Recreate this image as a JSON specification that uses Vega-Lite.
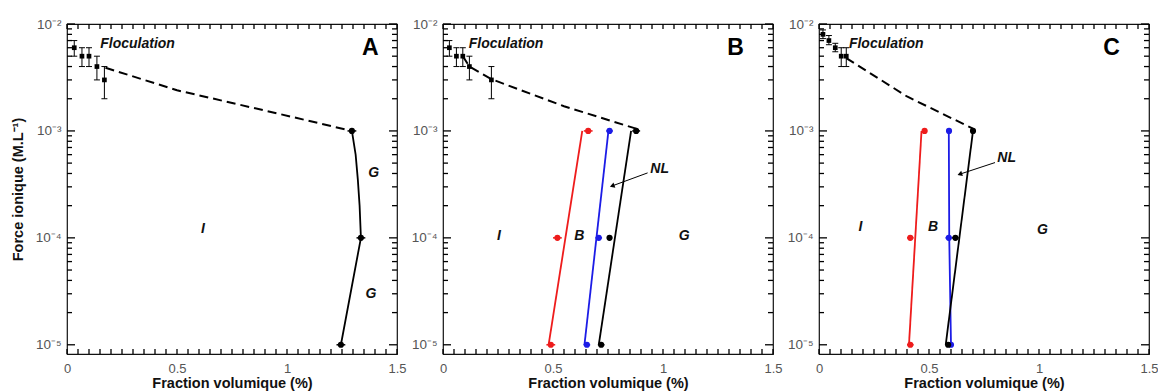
{
  "$schema": "https://vega.github.io/schema/vega-lite/v6.json",
  "padding": {"left": 9, "top": 16, "right": 2, "bottom": 2},
  "background": "#ffffff",
  "spacing": 3,
  "config": {
    "view": {"stroke": "#111111", "strokeWidth": 1.2},
    "axis": {"grid": false, "domain": false, "labelFont": "Liberation Sans", "titleFont": "Liberation Sans", "labelFontSize": 13, "labelColor": "#555555"},
    "text": {"font": "Liberation Sans"}
  },
  "datasets": {
    "tx": [{"v": 0}, {"v": 0.05}, {"v": 0.1}, {"v": 0.15}, {"v": 0.2}, {"v": 0.25}, {"v": 0.3}, {"v": 0.35}, {"v": 0.4}, {"v": 0.45}, {"v": 0.5}, {"v": 0.55}, {"v": 0.6}, {"v": 0.65}, {"v": 0.7}, {"v": 0.75}, {"v": 0.8}, {"v": 0.85}, {"v": 0.9}, {"v": 0.95}, {"v": 1}, {"v": 1.05}, {"v": 1.1}, {"v": 1.15}, {"v": 1.2}, {"v": 1.25}, {"v": 1.3}, {"v": 1.35}, {"v": 1.4}, {"v": 1.45}, {"v": 1.5}],
    "tymin": [{"v": 0.00002}, {"v": 0.00003}, {"v": 0.00004}, {"v": 0.00005}, {"v": 0.00006}, {"v": 0.00007}, {"v": 0.00008}, {"v": 0.00009}, {"v": 0.0002}, {"v": 0.0003}, {"v": 0.0004}, {"v": 0.0005}, {"v": 0.0006}, {"v": 0.0007}, {"v": 0.0008}, {"v": 0.0009}, {"v": 0.002}, {"v": 0.003}, {"v": 0.004}, {"v": 0.005}, {"v": 0.006}, {"v": 0.007}, {"v": 0.008}, {"v": 0.009}],
    "tymaj": [{"v": 0.00001}, {"v": 0.0001}, {"v": 0.001}, {"v": 0.01}],
    "floc": [
      {"p": "A", "x": 0.033, "y": 0.006, "lo": 0.005, "hi": 0.007},
      {"p": "A", "x": 0.068, "y": 0.005, "lo": 0.004, "hi": 0.006},
      {"p": "A", "x": 0.1, "y": 0.005, "lo": 0.004, "hi": 0.006},
      {"p": "A", "x": 0.136, "y": 0.004, "lo": 0.003, "hi": 0.005},
      {"p": "A", "x": 0.17, "y": 0.003, "lo": 0.002, "hi": 0.004},
      {"p": "B", "x": 0.029, "y": 0.006, "lo": 0.005, "hi": 0.007},
      {"p": "B", "x": 0.061, "y": 0.005, "lo": 0.004, "hi": 0.006},
      {"p": "B", "x": 0.09, "y": 0.005, "lo": 0.004, "hi": 0.006},
      {"p": "B", "x": 0.12, "y": 0.004, "lo": 0.003, "hi": 0.005},
      {"p": "B", "x": 0.22, "y": 0.003, "lo": 0.002, "hi": 0.004},
      {"p": "C", "x": 0.018, "y": 0.008, "lo": 0.0073, "hi": 0.0088},
      {"p": "C", "x": 0.045, "y": 0.007, "lo": 0.0064, "hi": 0.0078},
      {"p": "C", "x": 0.074, "y": 0.006, "lo": 0.0055, "hi": 0.0066},
      {"p": "C", "x": 0.101, "y": 0.005, "lo": 0.004, "hi": 0.006},
      {"p": "C", "x": 0.124, "y": 0.005, "lo": 0.004, "hi": 0.006}
    ],
    "dash": [
      {"p": "A", "i": 1, "x": 0.175, "y": 0.0039},
      {"p": "A", "i": 2, "x": 0.5, "y": 0.0024},
      {"p": "A", "i": 3, "x": 0.9, "y": 0.00155},
      {"p": "A", "i": 4, "x": 1.295, "y": 0.001},
      {"p": "B", "i": 1, "x": 0.09, "y": 0.005},
      {"p": "B", "i": 2, "x": 0.12, "y": 0.004},
      {"p": "B", "i": 3, "x": 0.22, "y": 0.00305},
      {"p": "B", "i": 4, "x": 0.55, "y": 0.0017},
      {"p": "B", "i": 5, "x": 0.878, "y": 0.00105},
      {"p": "C", "i": 1, "x": 0.124, "y": 0.0048},
      {"p": "C", "i": 2, "x": 0.4, "y": 0.0021},
      {"p": "C", "i": 3, "x": 0.7, "y": 0.00105}
    ],
    "lines": [
      {"p": "A", "s": "black", "i": 1, "x": 1.295, "y": 0.001},
      {"p": "A", "s": "black", "i": 2, "x": 1.312, "y": 0.0006},
      {"p": "A", "s": "black", "i": 3, "x": 1.322, "y": 0.00035},
      {"p": "A", "s": "black", "i": 4, "x": 1.33, "y": 0.0002},
      {"p": "A", "s": "black", "i": 5, "x": 1.336, "y": 0.0001},
      {"p": "A", "s": "black", "i": 6, "x": 1.245, "y": 0.00001},
      {"p": "B", "s": "red", "i": 1, "x": 0.633, "y": 0.001},
      {"p": "B", "s": "red", "i": 2, "x": 0.48, "y": 0.00001},
      {"p": "B", "s": "blue", "i": 1, "x": 0.752, "y": 0.001},
      {"p": "B", "s": "blue", "i": 2, "x": 0.643, "y": 0.00001},
      {"p": "B", "s": "black", "i": 1, "x": 0.855, "y": 0.001},
      {"p": "B", "s": "black", "i": 2, "x": 0.708, "y": 0.00001},
      {"p": "C", "s": "red", "i": 1, "x": 0.466, "y": 0.001},
      {"p": "C", "s": "red", "i": 2, "x": 0.409, "y": 0.00001},
      {"p": "C", "s": "blue", "i": 1, "x": 0.59, "y": 0.001},
      {"p": "C", "s": "blue", "i": 2, "x": 0.592, "y": 0.0001},
      {"p": "C", "s": "blue", "i": 3, "x": 0.6, "y": 0.00001},
      {"p": "C", "s": "black", "i": 1, "x": 0.7, "y": 0.001},
      {"p": "C", "s": "black", "i": 2, "x": 0.576, "y": 0.00001}
    ],
    "mk": [
      {"p": "A", "s": "black", "x": 1.295, "y": 0.001, "xlo": 1.275, "xhi": 1.315},
      {"p": "A", "s": "black", "x": 1.336, "y": 0.0001, "xlo": 1.316, "xhi": 1.356},
      {"p": "A", "s": "black", "x": 1.245, "y": 0.00001, "xlo": 1.225, "xhi": 1.265},
      {"p": "B", "s": "red", "x": 0.66, "y": 0.001, "xlo": 0.64, "xhi": 0.68},
      {"p": "B", "s": "red", "x": 0.52, "y": 0.0001, "xlo": 0.5, "xhi": 0.54},
      {"p": "B", "s": "red", "x": 0.49, "y": 0.00001, "xlo": 0.47, "xhi": 0.51},
      {"p": "B", "s": "blue", "x": 0.757, "y": 0.001, "xlo": 0.742, "xhi": 0.772},
      {"p": "B", "s": "blue", "x": 0.708, "y": 0.0001, "xlo": 0.693, "xhi": 0.723},
      {"p": "B", "s": "blue", "x": 0.654, "y": 0.00001, "xlo": 0.639, "xhi": 0.669},
      {"p": "B", "s": "black", "x": 0.878, "y": 0.001, "xlo": 0.86, "xhi": 0.896},
      {"p": "B", "s": "black", "x": 0.757, "y": 0.0001, "xlo": 0.745, "xhi": 0.769},
      {"p": "B", "s": "black", "x": 0.719, "y": 0.00001, "xlo": 0.704, "xhi": 0.734},
      {"p": "C", "s": "red", "x": 0.48, "y": 0.001, "xlo": 0.468, "xhi": 0.492},
      {"p": "C", "s": "red", "x": 0.415, "y": 0.0001, "xlo": 0.4, "xhi": 0.43},
      {"p": "C", "s": "red", "x": 0.415, "y": 0.00001, "xlo": 0.4, "xhi": 0.43},
      {"p": "C", "s": "blue", "x": 0.591, "y": 0.001, "xlo": 0.581, "xhi": 0.601},
      {"p": "C", "s": "blue", "x": 0.59, "y": 0.0001, "xlo": 0.575, "xhi": 0.605},
      {"p": "C", "s": "blue", "x": 0.6, "y": 0.00001, "xlo": 0.59, "xhi": 0.61},
      {"p": "C", "s": "black", "x": 0.7, "y": 0.001, "xlo": 0.688, "xhi": 0.712},
      {"p": "C", "s": "black", "x": 0.62, "y": 0.0001, "xlo": 0.605, "xhi": 0.635},
      {"p": "C", "s": "black", "x": 0.587, "y": 0.00001, "xlo": 0.575, "xhi": 0.599}
    ],
    "lab": [
      {"p": "A", "t": "Floculation", "x": 0.151, "y": 0.0065},
      {"p": "A", "t": "G", "x": 1.394, "y": 0.000407},
      {"p": "A", "t": "G", "x": 1.382, "y": 0.0000298},
      {"p": "A", "t": "I", "x": 0.618, "y": 0.00012},
      {"p": "B", "t": "Floculation", "x": 0.117, "y": 0.0065},
      {"p": "B", "t": "I", "x": 0.254, "y": 0.000103},
      {"p": "B", "t": "B", "x": 0.62, "y": 0.000103},
      {"p": "B", "t": "G", "x": 1.096, "y": 0.000103},
      {"p": "B", "t": "NL", "x": 0.985, "y": 0.00044},
      {"p": "C", "t": "Floculation", "x": 0.136, "y": 0.0065},
      {"p": "C", "t": "I", "x": 0.188, "y": 0.000127},
      {"p": "C", "t": "B", "x": 0.519, "y": 0.000127},
      {"p": "C", "t": "G", "x": 1.016, "y": 0.000118},
      {"p": "C", "t": "NL", "x": 0.853, "y": 0.00056}
    ],
    "big": [
      {"p": "A", "t": "A", "x": 1.379, "y": 0.006},
      {"p": "B", "t": "B", "x": 1.33, "y": 0.006},
      {"p": "C", "t": "C", "x": 1.33, "y": 0.006}
    ],
    "arrows": [
      {"p": "B", "x": 0.93, "y": 0.000405, "x2": 0.769, "y2": 0.000306},
      {"p": "C", "x": 0.8, "y": 0.000506, "x2": 0.64, "y2": 0.000394}
    ]
  },
  "hconcat": [
    {
      "width": 330, "height": 330,
      "layer": [
        {"data": {"name": "dash"}, "transform": [{"filter": "datum.p=='A'"}],
         "mark": {"type": "line", "strokeDash": [9, 5], "strokeWidth": 2, "color": "#000000"},
         "encoding": {
           "x": {"field": "x", "type": "quantitative", "scale": {"domain": [0, 1.5], "nice": false, "zero": false},
                 "axis": {"orient": "bottom", "values": [0, 0.5, 1, 1.5], "format": "~g", "ticks": false, "tickSize": 0, "labelPadding": 8, "labelOverlap": false, "labelFlush": false,
                          "title": "Fraction volumique (%)", "titleFontSize": 14.5, "titleFontWeight": "bold", "titleColor": "#111111", "titlePadding": 1}},
           "y": {"field": "y", "type": "quantitative", "scale": {"type": "log", "domain": [0.0000082, 0.01], "nice": false},
                 "axis": {"orient": "left", "values": [0.00001, 0.0001, 0.001, 0.01],
                          "labelExpr": "'10' + ['⁻⁵','⁻⁴','⁻³','⁻²'][round(log(datum.value)/LN10)+5]",
                          "ticks": false, "tickSize": 0, "labelPadding": 6, "labelFontSize": 13.5, "labelOverlap": false, "labelFlush": false,
                          "title": "Force ionique (M.L⁻¹)", "titleFontSize": 14.5, "titleFontWeight": "bold", "titleColor": "#111111", "titlePadding": 10}},
           "order": {"field": "i"}
         }},
        {"data": {"name": "tx"}, "mark": {"type": "rule", "color": "#000000", "strokeWidth": 1.3},
         "encoding": {"x": {"field": "v", "type": "quantitative"}, "y": {"datum": 0.0000082, "type": "quantitative"}, "y2": {"datum": 0.00000913}}},
        {"data": {"name": "tx"}, "mark": {"type": "rule", "color": "#000000", "strokeWidth": 1.3},
         "encoding": {"x": {"field": "v", "type": "quantitative"}, "y": {"datum": 0.01, "type": "quantitative"}, "y2": {"datum": 0.00898}}},
        {"data": {"name": "tymin"}, "mark": {"type": "rule", "color": "#000000", "strokeWidth": 1.3},
         "encoding": {"y": {"field": "v", "type": "quantitative"}, "x": {"datum": 0, "type": "quantitative"}, "x2": {"datum": 0.0227}}},
        {"data": {"name": "tymin"}, "mark": {"type": "rule", "color": "#000000", "strokeWidth": 1.3},
         "encoding": {"y": {"field": "v", "type": "quantitative"}, "x": {"datum": 1.5, "type": "quantitative"}, "x2": {"datum": 1.4773}}},
        {"data": {"name": "tymaj"}, "mark": {"type": "rule", "color": "#000000", "strokeWidth": 1.3},
         "encoding": {"y": {"field": "v", "type": "quantitative"}, "x": {"datum": 0, "type": "quantitative"}, "x2": {"datum": 0.0364}}},
        {"data": {"name": "tymaj"}, "mark": {"type": "rule", "color": "#000000", "strokeWidth": 1.3},
         "encoding": {"y": {"field": "v", "type": "quantitative"}, "x": {"datum": 1.5, "type": "quantitative"}, "x2": {"datum": 1.4636}}},
        {"data": {"name": "floc"}, "transform": [{"filter": "datum.p=='A'"}],
         "mark": {"type": "rule", "color": "#000000", "strokeWidth": 1},
         "encoding": {"x": {"field": "x", "type": "quantitative"}, "y": {"field": "lo", "type": "quantitative"}, "y2": {"field": "hi"}}},
        {"data": {"name": "floc"}, "transform": [{"filter": "datum.p=='A'"}, {"fold": ["lo", "hi"], "as": ["k", "v"]}],
         "mark": {"type": "tick", "orient": "horizontal", "size": 6, "thickness": 1, "color": "#000000", "opacity": 1},
         "encoding": {"x": {"field": "x", "type": "quantitative"}, "y": {"field": "v", "type": "quantitative"}}},
        {"data": {"name": "floc"}, "transform": [{"filter": "datum.p=='A'"}],
         "mark": {"type": "point", "shape": "square", "filled": true, "size": 22, "color": "#000000", "opacity": 1},
         "encoding": {"x": {"field": "x", "type": "quantitative"}, "y": {"field": "y", "type": "quantitative"}}},
        {"data": {"name": "lines"}, "transform": [{"filter": "datum.p=='A'"}],
         "mark": {"type": "line", "strokeWidth": 1.8},
         "encoding": {"x": {"field": "x", "type": "quantitative"}, "y": {"field": "y", "type": "quantitative"},
                      "color": {"field": "s", "type": "nominal", "scale": {"domain": ["black", "red", "blue"], "range": ["#000000", "#ee1c1c", "#1c1ce6"]}, "legend": null},
                      "order": {"field": "i"}}},
        {"data": {"name": "mk"}, "transform": [{"filter": "datum.p=='A'"}],
         "mark": {"type": "rule", "strokeWidth": 1.5},
         "encoding": {"x": {"field": "xlo", "type": "quantitative"}, "x2": {"field": "xhi"}, "y": {"field": "y", "type": "quantitative"},
                      "color": {"field": "s", "type": "nominal", "scale": {"domain": ["black", "red", "blue"], "range": ["#000000", "#ee1c1c", "#1c1ce6"]}, "legend": null}}},
        {"data": {"name": "mk"}, "transform": [{"filter": "datum.p=='A'"}],
         "mark": {"type": "point", "shape": "circle", "filled": true, "size": 38, "opacity": 1},
         "encoding": {"x": {"field": "x", "type": "quantitative"}, "y": {"field": "y", "type": "quantitative"},
                      "color": {"field": "s", "type": "nominal", "scale": {"domain": ["black", "red", "blue"], "range": ["#000000", "#ee1c1c", "#1c1ce6"]}, "legend": null}}},
        {"data": {"name": "lab"}, "transform": [{"filter": "datum.p=='A' && datum.t=='Floculation'"}],
         "mark": {"type": "text", "fontSize": 14, "fontStyle": "italic", "fontWeight": "bold", "align": "left", "baseline": "middle", "color": "#111111"},
         "encoding": {"x": {"field": "x", "type": "quantitative"}, "y": {"field": "y", "type": "quantitative"}, "text": {"field": "t"}}},
        {"data": {"name": "lab"}, "transform": [{"filter": "datum.p=='A' && datum.t!='Floculation'"}],
         "mark": {"type": "text", "fontSize": 14, "fontStyle": "italic", "fontWeight": "bold", "align": "center", "baseline": "middle", "color": "#111111"},
         "encoding": {"x": {"field": "x", "type": "quantitative"}, "y": {"field": "y", "type": "quantitative"}, "text": {"field": "t"}}},
        {"data": {"name": "big"}, "transform": [{"filter": "datum.p=='A'"}],
         "mark": {"type": "text", "fontSize": 23, "fontWeight": "bold", "align": "center", "baseline": "middle", "color": "#000000"},
         "encoding": {"x": {"field": "x", "type": "quantitative"}, "y": {"field": "y", "type": "quantitative"}, "text": {"field": "t"}}}
      ]
    },
    {
      "width": 330, "height": 330,
      "layer": [
        {"data": {"name": "dash"}, "transform": [{"filter": "datum.p=='B'"}],
         "mark": {"type": "line", "strokeDash": [9, 5], "strokeWidth": 2, "color": "#000000"},
         "encoding": {
           "x": {"field": "x", "type": "quantitative", "scale": {"domain": [0, 1.5], "nice": false, "zero": false},
                 "axis": {"orient": "bottom", "values": [0, 0.5, 1, 1.5], "format": "~g", "ticks": false, "tickSize": 0, "labelPadding": 8, "labelOverlap": false, "labelFlush": false,
                          "title": "Fraction volumique (%)", "titleFontSize": 14.5, "titleFontWeight": "bold", "titleColor": "#111111", "titlePadding": 1}},
           "y": {"field": "y", "type": "quantitative", "scale": {"type": "log", "domain": [0.0000082, 0.01], "nice": false},
                 "axis": {"orient": "left", "values": [0.00001, 0.0001, 0.001, 0.01],
                          "labelExpr": "'10' + ['⁻⁵','⁻⁴','⁻³','⁻²'][round(log(datum.value)/LN10)+5]",
                          "ticks": false, "tickSize": 0, "labelPadding": 6, "labelFontSize": 13.5, "labelOverlap": false, "labelFlush": false, "title": null}},
           "order": {"field": "i"}
         }},
        {"data": {"name": "tx"}, "mark": {"type": "rule", "color": "#000000", "strokeWidth": 1.3},
         "encoding": {"x": {"field": "v", "type": "quantitative"}, "y": {"datum": 0.0000082, "type": "quantitative"}, "y2": {"datum": 0.00000913}}},
        {"data": {"name": "tx"}, "mark": {"type": "rule", "color": "#000000", "strokeWidth": 1.3},
         "encoding": {"x": {"field": "v", "type": "quantitative"}, "y": {"datum": 0.01, "type": "quantitative"}, "y2": {"datum": 0.00898}}},
        {"data": {"name": "tymin"}, "mark": {"type": "rule", "color": "#000000", "strokeWidth": 1.3},
         "encoding": {"y": {"field": "v", "type": "quantitative"}, "x": {"datum": 0, "type": "quantitative"}, "x2": {"datum": 0.0227}}},
        {"data": {"name": "tymin"}, "mark": {"type": "rule", "color": "#000000", "strokeWidth": 1.3},
         "encoding": {"y": {"field": "v", "type": "quantitative"}, "x": {"datum": 1.5, "type": "quantitative"}, "x2": {"datum": 1.4773}}},
        {"data": {"name": "tymaj"}, "mark": {"type": "rule", "color": "#000000", "strokeWidth": 1.3},
         "encoding": {"y": {"field": "v", "type": "quantitative"}, "x": {"datum": 0, "type": "quantitative"}, "x2": {"datum": 0.0364}}},
        {"data": {"name": "tymaj"}, "mark": {"type": "rule", "color": "#000000", "strokeWidth": 1.3},
         "encoding": {"y": {"field": "v", "type": "quantitative"}, "x": {"datum": 1.5, "type": "quantitative"}, "x2": {"datum": 1.4636}}},
        {"data": {"name": "floc"}, "transform": [{"filter": "datum.p=='B'"}],
         "mark": {"type": "rule", "color": "#000000", "strokeWidth": 1},
         "encoding": {"x": {"field": "x", "type": "quantitative"}, "y": {"field": "lo", "type": "quantitative"}, "y2": {"field": "hi"}}},
        {"data": {"name": "floc"}, "transform": [{"filter": "datum.p=='B'"}, {"fold": ["lo", "hi"], "as": ["k", "v"]}],
         "mark": {"type": "tick", "orient": "horizontal", "size": 6, "thickness": 1, "color": "#000000", "opacity": 1},
         "encoding": {"x": {"field": "x", "type": "quantitative"}, "y": {"field": "v", "type": "quantitative"}}},
        {"data": {"name": "floc"}, "transform": [{"filter": "datum.p=='B'"}],
         "mark": {"type": "point", "shape": "square", "filled": true, "size": 22, "color": "#000000", "opacity": 1},
         "encoding": {"x": {"field": "x", "type": "quantitative"}, "y": {"field": "y", "type": "quantitative"}}},
        {"data": {"name": "lines"}, "transform": [{"filter": "datum.p=='B'"}],
         "mark": {"type": "line", "strokeWidth": 1.8},
         "encoding": {"x": {"field": "x", "type": "quantitative"}, "y": {"field": "y", "type": "quantitative"},
                      "color": {"field": "s", "type": "nominal", "scale": {"domain": ["black", "red", "blue"], "range": ["#000000", "#ee1c1c", "#1c1ce6"]}, "legend": null},
                      "order": {"field": "i"}}},
        {"data": {"name": "mk"}, "transform": [{"filter": "datum.p=='B'"}],
         "mark": {"type": "rule", "strokeWidth": 1.5},
         "encoding": {"x": {"field": "xlo", "type": "quantitative"}, "x2": {"field": "xhi"}, "y": {"field": "y", "type": "quantitative"},
                      "color": {"field": "s", "type": "nominal", "scale": {"domain": ["black", "red", "blue"], "range": ["#000000", "#ee1c1c", "#1c1ce6"]}, "legend": null}}},
        {"data": {"name": "mk"}, "transform": [{"filter": "datum.p=='B'"}],
         "mark": {"type": "point", "shape": "circle", "filled": true, "size": 38, "opacity": 1},
         "encoding": {"x": {"field": "x", "type": "quantitative"}, "y": {"field": "y", "type": "quantitative"},
                      "color": {"field": "s", "type": "nominal", "scale": {"domain": ["black", "red", "blue"], "range": ["#000000", "#ee1c1c", "#1c1ce6"]}, "legend": null}}},
        {"data": {"name": "arrows"}, "transform": [{"filter": "datum.p=='B'"}],
         "mark": {"type": "rule", "strokeWidth": 1, "color": "#000000"},
         "encoding": {"x": {"field": "x", "type": "quantitative"}, "y": {"field": "y", "type": "quantitative"}, "x2": {"field": "x2"}, "y2": {"field": "y2"}}},
        {"data": {"name": "arrows"}, "transform": [{"filter": "datum.p=='B'"}],
         "mark": {"type": "point", "shape": "triangle-up", "angle": 250, "filled": true, "size": 30, "color": "#000000", "opacity": 1},
         "encoding": {"x": {"field": "x2", "type": "quantitative"}, "y": {"field": "y2", "type": "quantitative"}}},
        {"data": {"name": "lab"}, "transform": [{"filter": "datum.p=='B' && datum.t=='Floculation'"}],
         "mark": {"type": "text", "fontSize": 14, "fontStyle": "italic", "fontWeight": "bold", "align": "left", "baseline": "middle", "color": "#111111"},
         "encoding": {"x": {"field": "x", "type": "quantitative"}, "y": {"field": "y", "type": "quantitative"}, "text": {"field": "t"}}},
        {"data": {"name": "lab"}, "transform": [{"filter": "datum.p=='B' && datum.t!='Floculation'"}],
         "mark": {"type": "text", "fontSize": 14, "fontStyle": "italic", "fontWeight": "bold", "align": "center", "baseline": "middle", "color": "#111111"},
         "encoding": {"x": {"field": "x", "type": "quantitative"}, "y": {"field": "y", "type": "quantitative"}, "text": {"field": "t"}}},
        {"data": {"name": "big"}, "transform": [{"filter": "datum.p=='B'"}],
         "mark": {"type": "text", "fontSize": 23, "fontWeight": "bold", "align": "center", "baseline": "middle", "color": "#000000"},
         "encoding": {"x": {"field": "x", "type": "quantitative"}, "y": {"field": "y", "type": "quantitative"}, "text": {"field": "t"}}}
      ]
    },
    {
      "width": 330, "height": 330,
      "layer": [
        {"data": {"name": "dash"}, "transform": [{"filter": "datum.p=='C'"}],
         "mark": {"type": "line", "strokeDash": [9, 5], "strokeWidth": 2, "color": "#000000"},
         "encoding": {
           "x": {"field": "x", "type": "quantitative", "scale": {"domain": [0, 1.5], "nice": false, "zero": false},
                 "axis": {"orient": "bottom", "values": [0, 0.5, 1, 1.5], "format": "~g", "ticks": false, "tickSize": 0, "labelPadding": 8, "labelOverlap": false, "labelFlush": false,
                          "title": "Fraction volumique (%)", "titleFontSize": 14.5, "titleFontWeight": "bold", "titleColor": "#111111", "titlePadding": 1}},
           "y": {"field": "y", "type": "quantitative", "scale": {"type": "log", "domain": [0.0000082, 0.01], "nice": false},
                 "axis": {"orient": "left", "values": [0.00001, 0.0001, 0.001, 0.01],
                          "labelExpr": "'10' + ['⁻⁵','⁻⁴','⁻³','⁻²'][round(log(datum.value)/LN10)+5]",
                          "ticks": false, "tickSize": 0, "labelPadding": 6, "labelFontSize": 13.5, "labelOverlap": false, "labelFlush": false, "title": null}},
           "order": {"field": "i"}
         }},
        {"data": {"name": "tx"}, "mark": {"type": "rule", "color": "#000000", "strokeWidth": 1.3},
         "encoding": {"x": {"field": "v", "type": "quantitative"}, "y": {"datum": 0.0000082, "type": "quantitative"}, "y2": {"datum": 0.00000913}}},
        {"data": {"name": "tx"}, "mark": {"type": "rule", "color": "#000000", "strokeWidth": 1.3},
         "encoding": {"x": {"field": "v", "type": "quantitative"}, "y": {"datum": 0.01, "type": "quantitative"}, "y2": {"datum": 0.00898}}},
        {"data": {"name": "tymin"}, "mark": {"type": "rule", "color": "#000000", "strokeWidth": 1.3},
         "encoding": {"y": {"field": "v", "type": "quantitative"}, "x": {"datum": 0, "type": "quantitative"}, "x2": {"datum": 0.0227}}},
        {"data": {"name": "tymin"}, "mark": {"type": "rule", "color": "#000000", "strokeWidth": 1.3},
         "encoding": {"y": {"field": "v", "type": "quantitative"}, "x": {"datum": 1.5, "type": "quantitative"}, "x2": {"datum": 1.4773}}},
        {"data": {"name": "tymaj"}, "mark": {"type": "rule", "color": "#000000", "strokeWidth": 1.3},
         "encoding": {"y": {"field": "v", "type": "quantitative"}, "x": {"datum": 0, "type": "quantitative"}, "x2": {"datum": 0.0364}}},
        {"data": {"name": "tymaj"}, "mark": {"type": "rule", "color": "#000000", "strokeWidth": 1.3},
         "encoding": {"y": {"field": "v", "type": "quantitative"}, "x": {"datum": 1.5, "type": "quantitative"}, "x2": {"datum": 1.4636}}},
        {"data": {"name": "floc"}, "transform": [{"filter": "datum.p=='C'"}],
         "mark": {"type": "rule", "color": "#000000", "strokeWidth": 1},
         "encoding": {"x": {"field": "x", "type": "quantitative"}, "y": {"field": "lo", "type": "quantitative"}, "y2": {"field": "hi"}}},
        {"data": {"name": "floc"}, "transform": [{"filter": "datum.p=='C'"}, {"fold": ["lo", "hi"], "as": ["k", "v"]}],
         "mark": {"type": "tick", "orient": "horizontal", "size": 6, "thickness": 1, "color": "#000000", "opacity": 1},
         "encoding": {"x": {"field": "x", "type": "quantitative"}, "y": {"field": "v", "type": "quantitative"}}},
        {"data": {"name": "floc"}, "transform": [{"filter": "datum.p=='C'"}],
         "mark": {"type": "point", "shape": "square", "filled": true, "size": 22, "color": "#000000", "opacity": 1},
         "encoding": {"x": {"field": "x", "type": "quantitative"}, "y": {"field": "y", "type": "quantitative"}}},
        {"data": {"name": "lines"}, "transform": [{"filter": "datum.p=='C'"}],
         "mark": {"type": "line", "strokeWidth": 1.8},
         "encoding": {"x": {"field": "x", "type": "quantitative"}, "y": {"field": "y", "type": "quantitative"},
                      "color": {"field": "s", "type": "nominal", "scale": {"domain": ["black", "red", "blue"], "range": ["#000000", "#ee1c1c", "#1c1ce6"]}, "legend": null},
                      "order": {"field": "i"}}},
        {"data": {"name": "mk"}, "transform": [{"filter": "datum.p=='C'"}],
         "mark": {"type": "rule", "strokeWidth": 1.5},
         "encoding": {"x": {"field": "xlo", "type": "quantitative"}, "x2": {"field": "xhi"}, "y": {"field": "y", "type": "quantitative"},
                      "color": {"field": "s", "type": "nominal", "scale": {"domain": ["black", "red", "blue"], "range": ["#000000", "#ee1c1c", "#1c1ce6"]}, "legend": null}}},
        {"data": {"name": "mk"}, "transform": [{"filter": "datum.p=='C'"}],
         "mark": {"type": "point", "shape": "circle", "filled": true, "size": 38, "opacity": 1},
         "encoding": {"x": {"field": "x", "type": "quantitative"}, "y": {"field": "y", "type": "quantitative"},
                      "color": {"field": "s", "type": "nominal", "scale": {"domain": ["black", "red", "blue"], "range": ["#000000", "#ee1c1c", "#1c1ce6"]}, "legend": null}}},
        {"data": {"name": "arrows"}, "transform": [{"filter": "datum.p=='C'"}],
         "mark": {"type": "rule", "strokeWidth": 1, "color": "#000000"},
         "encoding": {"x": {"field": "x", "type": "quantitative"}, "y": {"field": "y", "type": "quantitative"}, "x2": {"field": "x2"}, "y2": {"field": "y2"}}},
        {"data": {"name": "arrows"}, "transform": [{"filter": "datum.p=='C'"}],
         "mark": {"type": "point", "shape": "triangle-up", "angle": 252, "filled": true, "size": 30, "color": "#000000", "opacity": 1},
         "encoding": {"x": {"field": "x2", "type": "quantitative"}, "y": {"field": "y2", "type": "quantitative"}}},
        {"data": {"name": "lab"}, "transform": [{"filter": "datum.p=='C' && datum.t=='Floculation'"}],
         "mark": {"type": "text", "fontSize": 14, "fontStyle": "italic", "fontWeight": "bold", "align": "left", "baseline": "middle", "color": "#111111"},
         "encoding": {"x": {"field": "x", "type": "quantitative"}, "y": {"field": "y", "type": "quantitative"}, "text": {"field": "t"}}},
        {"data": {"name": "lab"}, "transform": [{"filter": "datum.p=='C' && datum.t!='Floculation'"}],
         "mark": {"type": "text", "fontSize": 14, "fontStyle": "italic", "fontWeight": "bold", "align": "center", "baseline": "middle", "color": "#111111"},
         "encoding": {"x": {"field": "x", "type": "quantitative"}, "y": {"field": "y", "type": "quantitative"}, "text": {"field": "t"}}},
        {"data": {"name": "big"}, "transform": [{"filter": "datum.p=='C'"}],
         "mark": {"type": "text", "fontSize": 23, "fontWeight": "bold", "align": "center", "baseline": "middle", "color": "#000000"},
         "encoding": {"x": {"field": "x", "type": "quantitative"}, "y": {"field": "y", "type": "quantitative"}, "text": {"field": "t"}}}
      ]
    }
  ]
}
